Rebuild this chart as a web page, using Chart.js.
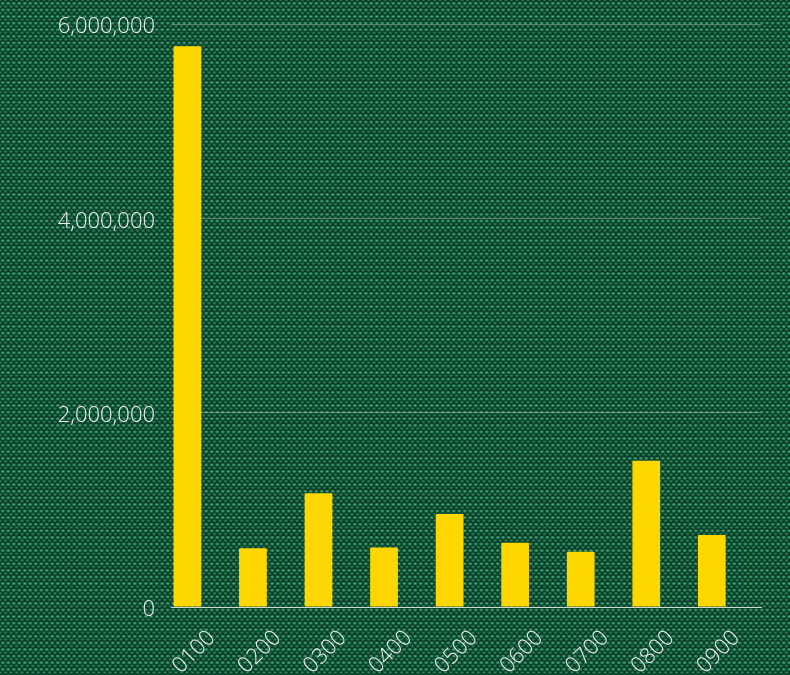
<!DOCTYPE html>
<html>
<head>
<meta charset="utf-8">
<script src="https://cdn.jsdelivr.net/npm/chart.js@4"></script>
<style>
  html, body { margin: 0; padding: 0; }
  body {
    width: 790px;
    height: 675px;
    overflow: hidden;
    background-color: #053f24;
    background-image:
      radial-gradient(ellipse 2.5px 1.9px at 50% 50%, rgba(110, 220, 175, 0.85), rgba(110, 220, 175, 0) 100%),
      radial-gradient(ellipse 2.5px 1.9px at 50% 50%, rgba(80, 190, 145, 0.7), rgba(80, 190, 145, 0) 100%),
      linear-gradient(to bottom, rgba(0, 25, 12, 0.5) 0, rgba(0, 25, 12, 0) 40%, rgba(0, 25, 12, 0) 100%);
    background-size: 5.5px 6.6px, 5.5px 6.6px, 100% 6.6px;
    background-position: 0 0, 2.75px 3.3px, 0 0;
  }
  #wrap { position: relative; width: 790px; height: 675px; }
</style>
</head>
<body>
<div id="wrap"><canvas id="chart"></canvas></div>
<script>
// 时间段分类及数值
const categories = ['0100', '0200', '0300', '0400', '0500', '0600', '0700', '0800', '0900'];
const values = [5770000, 604000, 1170000, 612000, 957000, 662000, 569000, 1506000, 741000];
const yTicks = [0, 2000000, 4000000, 6000000];

const textColor = 'rgba(245, 248, 246, 0.95)';
const tickFont = { family: '"Open Sans", "Noto Sans", sans-serif', size: 22, weight: 300 };

const ctx = document.getElementById('chart').getContext('2d');

new Chart(ctx, {
  type: 'bar',
  data: {
    labels: categories,
    datasets: [
      {
        label: 'Value',
        data: values,
        backgroundColor: '#FFD700',
        borderRadius: 1,
        borderSkipped: 'bottom'
      },
      {
        // 空系列，占位让柱子靠左
        label: '',
        data: categories.map(() => null),
        backgroundColor: 'rgba(0,0,0,0)'
      }
    ]
  },
  options: {
    responsive: true,
    maintainAspectRatio: false,
    animation: false,
    categoryPercentage: 1,
    barPercentage: 0.846,
    layout: {
      padding: { top: 24, right: 29, left: 0, bottom: 0 }
    },
    plugins: {
      legend: { display: false },
      tooltip: { enabled: false }
    },
    scales: {
      x: {
        grid: { display: false, drawTicks: false },
        border: { display: true, color: 'rgba(225, 230, 228, 0.85)', width: 1 },
        ticks: {
          color: textColor,
          font: tickFont,
          minRotation: 45,
          maxRotation: 45,
          padding: 18,
          labelOffset: 8
        },
        afterFit: function(scale) {
          scale.height = 68;
          scale.paddingLeft = 0;
          scale.paddingRight = 0;
        }
      },
      y: {
        min: 0,
        max: 6000000,
        afterBuildTicks: function(scale) {
          scale.ticks = yTicks.map(v => ({ value: v }));
        },
        grid: {
          color: 'rgba(190, 200, 195, 0.45)',
          lineWidth: 1,
          drawTicks: false
        },
        border: { display: false },
        ticks: {
          color: textColor,
          font: tickFont,
          padding: 16,
          labelOffset: 3,
          callback: function(value) {
            return Number(value).toLocaleString('en-US');
          }
        },
        afterFit: function(scale) {
          scale.width = 171;
          scale.paddingTop = 0;
          scale.paddingBottom = 0;
        }
      }
    }
  }
});
</script>
</body>
</html>
